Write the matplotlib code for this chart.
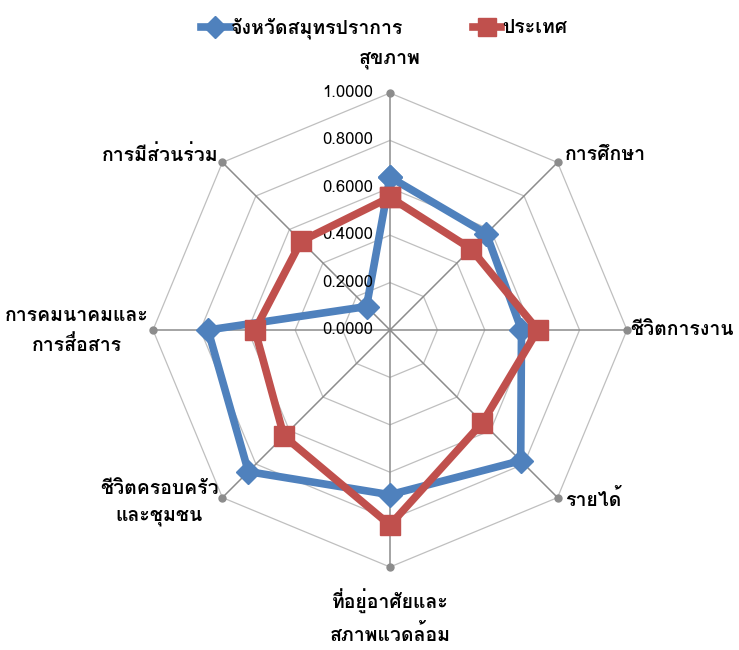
import numpy as np
import matplotlib
matplotlib.use("Agg")
import matplotlib.pyplot as plt

# Loma places the Thai tone marks above the upper vowels without shaping
plt.rcParams['font.family'] = ['Loma', 'DejaVu Sans']
plt.rcParams['font.weight'] = 'bold'

# categories clockwise from top
categories = ["สุขภาพ", "การศึกษา", "ชีวิตการงาน", "รายได้",
              "ที่อยู่อาศัยและ\nสภาพแวดล้อม", "ชีวิตครอบครัว\nและชุมชน",
              "การคมนาคมและ\nการสื่อสาร", "การมีส่วนร่วม"]
province = [0.645, 0.575, 0.555, 0.780, 0.695, 0.845, 0.768, 0.140]
country = [0.560, 0.484, 0.624, 0.552, 0.823, 0.633, 0.570, 0.530]
ticks = [0.0, 0.2, 0.4, 0.6, 0.8, 1.0]
tick_labels = ["%.4f" % t for t in ticks]

blue = "#4f81bd"
red = "#c0504d"

n = len(categories)
ang = np.arange(n) * 2 * np.pi / n
ang_c = np.append(ang, ang[0])

fig = plt.figure(figsize=(7.39, 6.5), dpi=100)
ax = fig.add_axes([0.2070, 0.1277, 0.6414, 0.7292], projection="polar")
ax.set_theta_zero_location("N")
ax.set_theta_direction(-1)
ax.set_ylim(0, 1)
ax.grid(False)
ax.spines["polar"].set_visible(False)
ax.set_xticks([]); ax.set_yticks([])

# octagon rings and spokes
for t in ticks[1:]:
    ax.plot(ang_c, [t] * (n + 1), color="#bfbfbf", lw=0.9, zorder=1)
for a in ang:
    ax.plot([a, a], [0, 1], color="#8c8c8c", lw=1.1, zorder=1)
ax.plot(ang, [1] * n, "o", color="#8c8c8c", ms=5, zorder=2, clip_on=False)

ax.plot(ang_c, province + province[:1], color=blue, lw=5.5, marker="D",
        ms=12, zorder=3, clip_on=False, label="จังหวัดสมุทรปราการ")
ax.plot(ang_c, country + country[:1], color=red, lw=5.5, marker="s",
        ms=14.5, zorder=4, clip_on=False, label="ประเทศ")

# radial tick labels
for t, lab in zip(ticks, tick_labels):
    ax.annotate(lab, xy=(0, t), xytext=(-17, 0), textcoords="offset pixels",
                ha="right", va="center", fontsize=12, fontweight="normal")

# category labels
offs = [(0, 33, "center"), (7, 7, "left"), (3, 0, "left"), (7, -2, "left"),
        (0, -50, "center"), (-4, -5, "right"), (-4, -1, "right"), (-4, 7, "right")]
for a, lab, (dx, dy, ha) in zip(ang, categories, offs):
    ax.annotate(lab, xy=(a, 1), xytext=(dx, dy), textcoords="offset pixels",
                ha=ha, va="center", multialignment="center", fontsize=14,
                linespacing=1.6, annotation_clip=False)

fig.legend(loc="upper center", bbox_to_anchor=(0.52, 1.0), ncol=2, frameon=False,
           fontsize=14, handlelength=1.45, handletextpad=0.05, columnspacing=3.6,
           markerscale=0.9)

fig.savefig("out.png", dpi=100)
